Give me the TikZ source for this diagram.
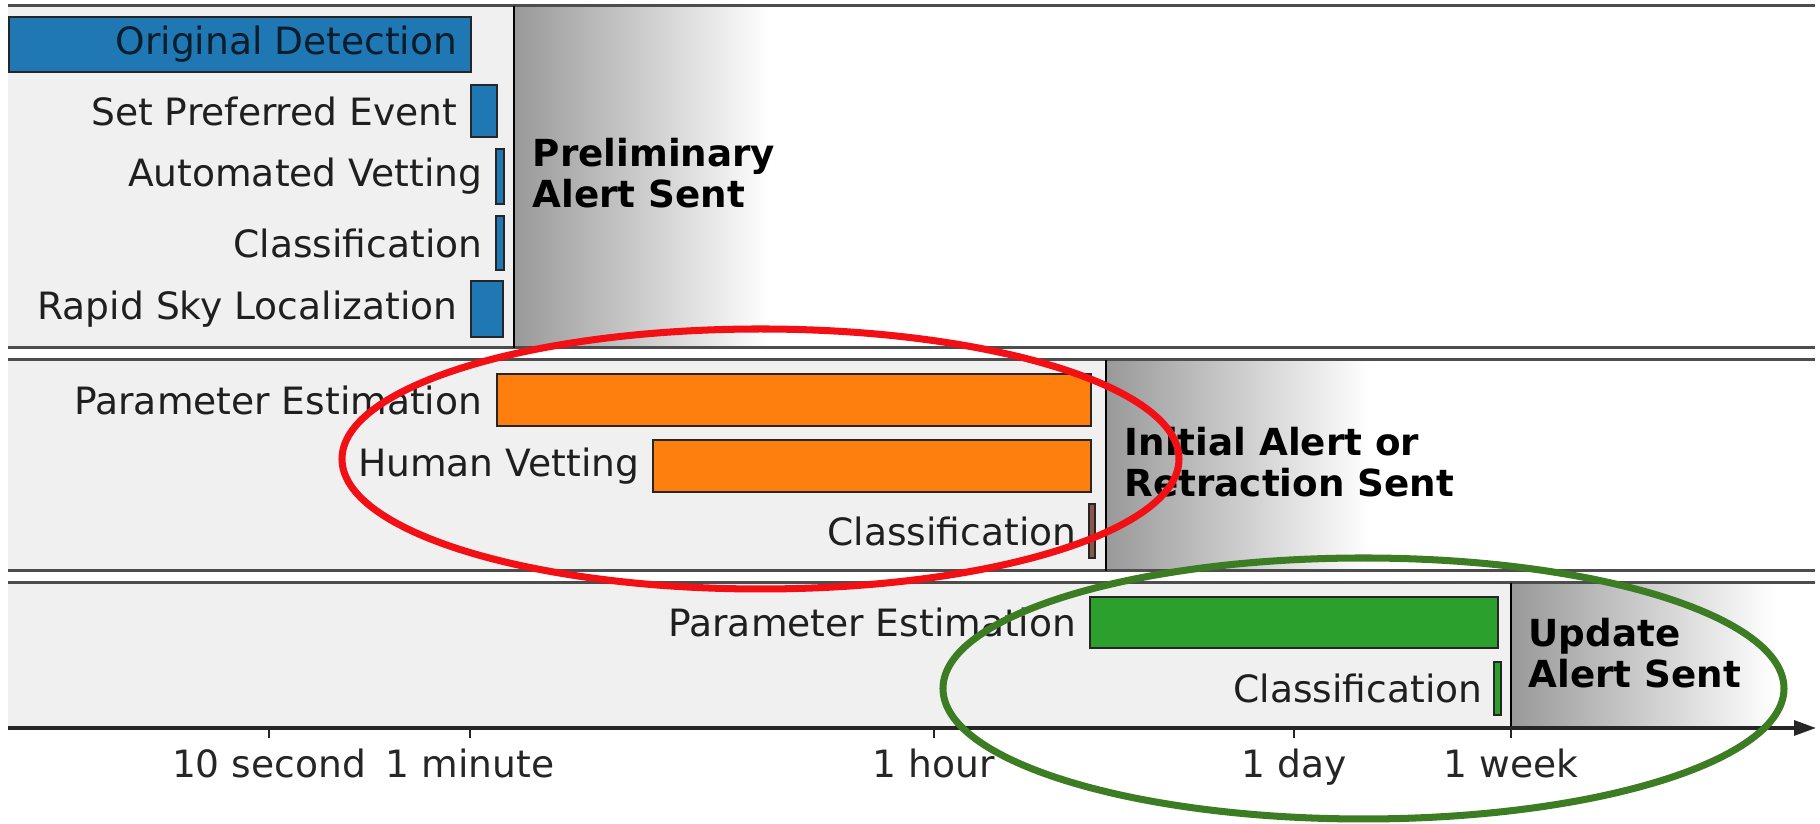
\documentclass[tikz,border=0pt]{standalone}
\usepackage{fontspec}
\setmainfont{DejaVu Sans}
\usepackage{tikz}
\usetikzlibrary{arrows.meta}

\tikzset{
    bar/.style={draw=black!85, line width=0.5pt},
    tasklabel/.style={anchor=east, inner sep=0pt, text=black!88},
    alertlabel/.style={anchor=west, inner sep=0pt, align=left, font=\fontsize{10.6}{11.6}\selectfont\bfseries},
    spine/.style={spinegray, line width=0.85pt},
    alertline/.style={black, line width=0.8pt},
    fadebox/.style={left color=black!40, right color=white}
}

\begin{document}
\begin{tikzpicture}[font=\fontsize{10.7}{12}\selectfont]
    % Define colors
    \definecolor{panelgray}{HTML}{F0F0F0}
    \definecolor{spinegray}{HTML}{4D4D4D}
    \definecolor{detblue}{HTML}{1F77B4}
    \definecolor{peorange}{HTML}{FF7F0E}
    \definecolor{updgreen}{HTML}{2CA02C}
    \definecolor{clsbrown}{HTML}{8C564B}
    \definecolor{ringred}{HTML}{F21015}
    \definecolor{ringgreen}{HTML}{3C7D23}

    \useasboundingbox (0,0) rectangle (18.2,-8.24);

    % Panel backgrounds
    \fill[panelgray] (0.08,-0.06) rectangle (5.14,-3.48);
    \shade[fadebox] (5.14,-0.06) rectangle (7.7,-3.48);
    \fill[panelgray] (0.08,-3.60) rectangle (11.06,-5.71);
    \shade[fadebox] (11.06,-3.60) rectangle (13.7,-5.71);
    \fill[panelgray] (0.08,-5.83) rectangle (15.11,-7.28);
    \shade[fadebox] (15.11,-5.83) rectangle (17.76,-7.28);

    % Panel borders
    \foreach \y in {0.06, 3.48, 3.60, 5.71, 5.83} {
        \draw[spine] (0.08,-\y) -- (18.15,-\y);
    }

    % Alert lines
    \draw[alertline] (5.14,-0.06) -- (5.14,-3.48);
    \draw[alertline] (11.06,-3.60) -- (11.06,-5.71);
    \draw[alertline] (15.11,-5.83) -- (15.11,-7.28);

    % Panel 1: preliminary alert
    \draw[bar, fill=detblue] (0.09,-0.17) rectangle (4.71,-0.72);
    \node[tasklabel, text=black!75!detblue] (od) at (4.58,-0.445) {Original Detection};
    \draw[bar, fill=detblue] (4.71,-0.85) rectangle (4.97,-1.37);
    \node[tasklabel] (spe) at (4.58,-1.11) {Set Preferred Event};
    \draw[bar, fill=detblue] (4.96,-1.49) rectangle (5.04,-2.04);
    \node[tasklabel] (av) at (4.83,-1.765) {Automated Vetting};
    \draw[bar, fill=detblue] (4.96,-2.16) rectangle (5.04,-2.70);
    \node[tasklabel] (cl1) at (4.83,-2.43) {Classification};
    \draw[bar, fill=detblue] (4.71,-2.81) rectangle (5.03,-3.37);
    \node[tasklabel] (rsl) at (4.58,-3.09) {Rapid Sky Localization};
    \node[alertlabel] (prelim) at (5.32,-1.73) {Preliminary\\Alert Sent};

    % Panel 2: initial alert
    \draw[bar, fill=peorange] (4.97,-3.74) rectangle (10.91,-4.26);
    \node[tasklabel] (pe2) at (4.83,-4.00) {Parameter Estimation};
    \draw[bar, fill=peorange] (6.53,-4.40) rectangle (10.91,-4.92);
    \node[tasklabel] (hv) at (6.40,-4.66) {Human Vetting};
    \draw[bar, fill=clsbrown] (10.89,-5.04) rectangle (10.95,-5.58);
    \node[tasklabel] (cl2) at (10.77,-5.31) {Classification};
    \node[alertlabel] (initial) at (11.24,-4.62) {Initial Alert or\\Retraction Sent};

    % Panel 3: update alert
    \draw[bar, fill=updgreen] (10.90,-5.97) rectangle (14.98,-6.48);
    \node[tasklabel] (pe3) at (10.77,-6.225) {Parameter Estimation};
    \draw[bar, fill=updgreen] (14.94,-6.62) rectangle (15.01,-7.15);
    \node[tasklabel] (cl3) at (14.83,-6.885) {Classification};
    \node[alertlabel] (update) at (15.28,-6.535) {Update\\Alert Sent};

    % Time axis
    \coordinate (axstart) at (0.08,-7.28);
    \coordinate (axend) at (18.16,-7.28);
    \draw[black!85, line width=0.9pt, -{Triangle[length=0.22cm, width=0.15cm]}] (axstart) -- (axend);
    \foreach \x/\lbl [count=\i] in {2.69/10 second, 4.70/1 minute, 9.34/1 hour, 12.94/1 day, 15.11/1 week} {
        \draw[black!85, line width=0.6pt] (\x,-7.28) -- (\x,-7.38);
        \node[anchor=base, inner sep=0pt, text=black!85] (tick\i) at (\x,-7.78) {\lbl};
    }

    % Highlight rings
    \draw[ringred, line width=2pt] (7.605,-4.59) ellipse [x radius=4.185, y radius=1.30];
    \draw[ringgreen, line width=2pt] (13.635,-6.885) ellipse [x radius=4.205, y radius=1.305];
\end{tikzpicture}
\end{document}
